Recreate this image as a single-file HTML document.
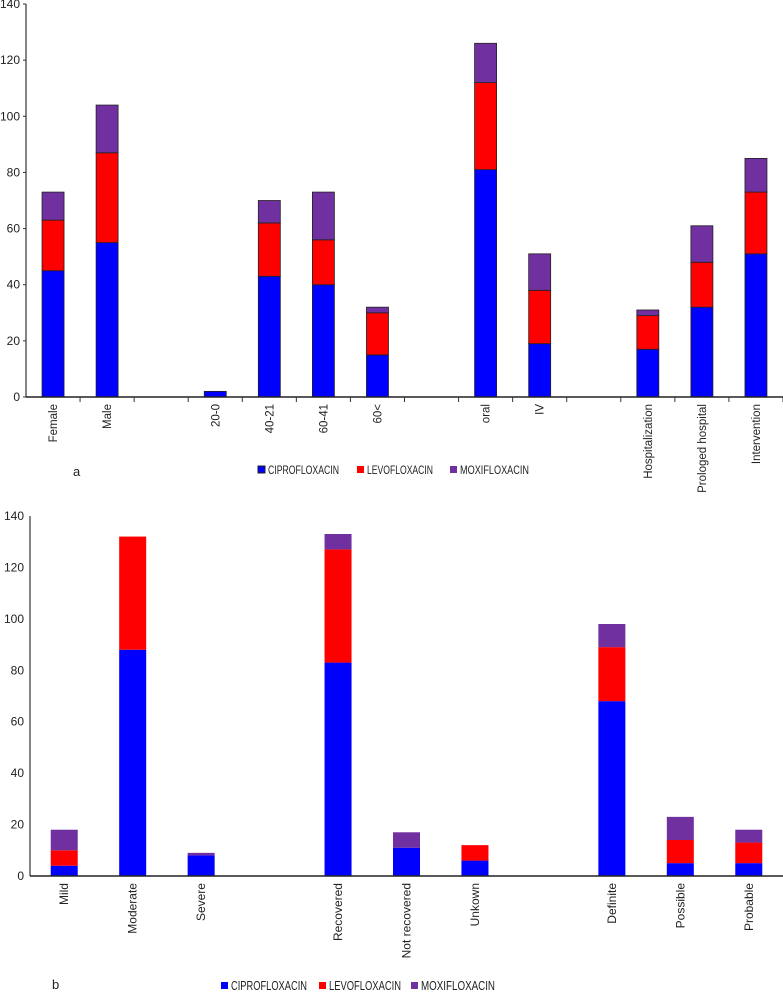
<!DOCTYPE html>
<html><head><meta charset="utf-8"><style>
body{margin:0;background:#fff}
svg{display:block;font-family:"Liberation Sans",sans-serif}
</style></head><body>
<svg id="chart" width="783" height="992" viewBox="0 0 783 992" xmlns="http://www.w3.org/2000/svg"></svg>
<script>
const catsA = ["Female","Male","","20-0","40-21","60-41","60<","","oral","IV","","Hospitalization","Prologed hospital","Intervention"];
const cipA = [45,55,null,2,43,40,15,null,81,19,null,17,32,51];
const levA = [18,32,null,0,19,16,15,null,31,19,null,12,16,22];
const moxA = [10,17,null,0,8,17,2,null,14,13,null,2,13,12];
const ticksA = [0,20,40,60,80,100,120,140];

const catsB = ["Mild","Moderate","Severe","","Recovered","Not recovered","Unkown","","Definite","Possible","Probable"];
const cipB = [4,88,8,null,83,11,6,null,68,5,5];
const levB = [6,44,0,null,44,0,6,null,21,9,8];
const moxB = [8,0,1,null,6,6,0,null,9,9,5];
const ticksB = [0,20,40,60,80,100,120,140];

const seriesNames = ["CIPROFLOXACIN","LEVOFLOXACIN","MOXIFLOXACIN"];
const colors = ["#0000ff","#ff0000","#7030a0"];
const NS = "http://www.w3.org/2000/svg";
const svg = document.getElementById('chart');
function mk(tag, attrs, parent, text){
  const e = document.createElementNS(NS, tag);
  for (const k in attrs) e.setAttribute(k, attrs[k]);
  if (text !== undefined) e.textContent = text;
  (parent||svg).appendChild(e);
  return e;
}
function drawChart(cfg){
  const g = mk('g', {});
  
  
  const yS = v => cfg.y0 - (v/140)*(cfg.y0-cfg.yTop);
  const slot = (cfg.xRight - cfg.x0)/cfg.cats.length;
  const xC = i => cfg.x0 + slot*(i+0.5);
  cfg.ticks.forEach(t=>{
    const tl = mk('text',{x:cfg.x0-6,y:yS(t)+4,'text-anchor':'end','font-size':12,fill:'#222'},g,String(t));
    
    
    if (cfg.tickMarks) mk('line',{x1:cfg.x0-3,x2:cfg.x0,y1:yS(t),y2:yS(t),stroke:'#333','stroke-width':1},g);
  });
  const series = [cfg.cip, cfg.lev, cfg.mox];
  cfg.cats.forEach((c,i)=>{
    if (cfg.cip[i] === null) return;
    let base = 0;
    series.forEach((s,si)=>{
      const v = s[i];
      if (v>0){
        const r = mk('rect',{x:xC(i)-cfg.bw/2,y:yS(base+v),width:cfg.bw,height:yS(base)-yS(base+v),fill:colors[si],stroke:cfg.outline?'#222':'none','stroke-width':cfg.outline?0.8:0},g);
        
        
      }
      base += v;
    });
  });
  const ya = mk('line',{x1:cfg.x0,x2:cfg.x0,y1:cfg.yTop,y2:cfg.y0,stroke:'#333','stroke-width':1.2},g);
  
  
  const xa = mk('line',{x1:cfg.x0,x2:cfg.xRight,y1:cfg.y0,y2:cfg.y0,stroke:'#222','stroke-width':1.5},g);
  
  
  if (cfg.tickMarks){
    for(let i=1;i<=cfg.cats.length;i++){
      const x = cfg.x0+slot*i;
      mk('line',{x1:x,x2:x,y1:cfg.y0,y2:cfg.y0+5,stroke:'#333','stroke-width':1},g);
    }
  }
  cfg.cats.forEach((c,i)=>{
    if(!c) return;
    const x = xC(i)+4, y = cfg.y0+7;
    const t = mk('text',{x:x,y:y,'text-anchor':'end','font-size':cfg.labFs,fill:'#222',transform:`rotate(-90 ${x} ${y})`},g,c);
    
    
  });
  const lab = mk('text',{x:cfg.labelX,y:cfg.labelY,'font-size':13,fill:'#222'},g,cfg.label);
  
  
  seriesNames.forEach((n,si)=>{
    const lx = cfg.legX[si];
    const sw = mk('rect',{x:lx,y:cfg.legY-5,width:7,height:7,fill:colors[si],stroke:cfg.outline&&si===0?'#222':'none'},g);
    
    
    const lt = mk('text',{x:lx+10,y:cfg.legY+3,'font-size':cfg.legFs,fill:'#222',textLength:cfg.legW[si],lengthAdjust:'spacingAndGlyphs'},g,n);
    
    
  });
}
drawChart({name:'chart-a',cats:catsA,cip:cipA,lev:levA,mox:moxA,ticks:ticksA,x0:26,xRight:783,y0:397,yTop:4,bw:22,outline:true,tickMarks:true,label:'a',labelX:73,labelY:476,legY:471,legX:[258,357,450],legW:[71,66,69],legFs:12,labFs:11.5});
drawChart({name:'chart-b',cats:catsB,cip:cipB,lev:levB,mox:moxB,ticks:ticksB,x0:30,xRight:783,y0:876,yTop:516,bw:27,outline:false,tickMarks:false,label:'b',labelX:52,labelY:989,legY:987,legX:[221,319,411],legW:[76,72,74],legFs:12.5,labFs:12});
</script>
</body></html>
